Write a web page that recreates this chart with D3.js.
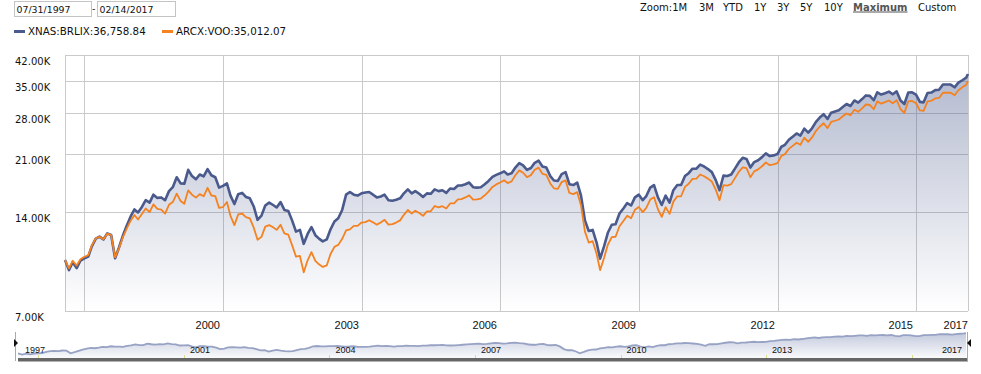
<!DOCTYPE html>
<html>
<head>
<meta charset="utf-8">
<script src="https://cdn.jsdelivr.net/npm/d3@7"></script>
<style>
  body { margin: 0; background: #fff; }
  svg { display: block; }
</style>
</head>
<body>
<div id="chart"></div>
<script>
// growth of 10K, monthly closes (thousands), 07/31/1997 .. 02/14/2017
var brlix = [
  10.00, 9.32, 9.85, 9.45, 9.95, 10.12,
  10.25, 11.00, 11.62, 11.78, 11.55, 12.05, 11.92, 10.12, 10.90, 11.85, 12.70, 13.55,
  14.25, 13.95, 14.50, 15.20, 14.95, 15.80, 15.45, 15.50, 15.20, 16.20, 16.65, 17.85,
  17.10, 17.05, 18.80, 18.00, 17.60, 18.20, 17.95, 18.90, 18.10, 17.85, 16.60, 16.80,
  17.10, 15.70, 14.80, 15.85, 16.00, 15.55, 15.40, 14.55, 13.25, 13.65, 14.65, 14.95,
  14.70, 14.45, 15.00, 14.20, 14.10, 13.20, 12.20, 12.35, 11.20, 12.00, 12.60, 11.90,
  11.60, 11.40, 11.55, 12.40, 13.10, 13.40, 14.20, 15.80, 16.10, 15.80, 15.70, 15.95,
  16.05, 16.10, 15.80, 15.50, 15.60, 15.80, 15.20, 15.15, 15.25, 15.40, 15.95, 16.40,
  15.95, 16.20, 15.90, 15.55, 15.95, 15.90, 16.40, 16.20, 16.30, 16.00, 16.50, 16.45,
  16.85, 16.85, 17.00, 17.20, 16.65, 16.60, 16.65, 17.00, 17.40, 17.90, 18.15, 18.35,
  18.60, 18.20, 18.35, 19.10, 19.70, 19.40, 18.80, 19.05, 19.75, 20.05, 19.25, 19.10,
  18.00, 17.45, 17.40, 18.25, 18.50, 17.00, 16.90, 17.20, 15.70, 13.20, 12.25, 12.35,
  11.30, 10.10, 11.00, 12.10, 12.80, 12.85, 13.85, 14.35, 14.90, 14.65, 15.50, 15.80,
  15.20, 15.65, 16.60, 16.90, 15.50, 14.70, 15.70, 14.95, 16.30, 16.90, 16.90, 18.00,
  18.40, 18.95, 18.95, 19.50, 19.25, 18.90, 18.50, 17.50, 16.30, 18.05, 18.00, 18.20,
  19.00, 19.80, 20.45, 20.30, 19.10, 19.85, 20.10, 20.55, 21.10, 20.70, 20.80, 21.00,
  22.10, 22.40, 23.20, 23.70, 24.25, 23.90, 25.10, 24.40, 25.15, 26.30, 27.10, 27.75,
  26.85, 28.05, 28.30, 28.55, 29.20, 29.80, 29.40, 30.55, 30.10, 30.85, 31.65, 31.55,
  30.60, 32.35, 31.85, 32.15, 32.50, 31.90, 32.55, 30.55, 29.80, 32.30, 32.35, 31.85,
  30.25, 30.15, 32.20, 32.30, 32.85, 32.95, 34.15, 34.15, 34.15, 33.50, 34.60, 35.20,
  35.85, 36.75884
];
var voo = [
  10.00, 9.43, 9.95, 9.62, 10.05, 10.23,
  10.34, 11.08, 11.64, 11.77, 11.56, 12.03, 11.90, 10.19, 10.84, 11.72, 12.43, 13.15,
  13.70, 13.28, 13.80, 14.34, 13.99, 14.77, 14.31, 14.24, 13.84, 14.72, 15.01, 15.92,
  15.12, 14.83, 16.29, 15.80, 15.48, 15.86, 15.62, 16.58, 15.71, 15.64, 14.40, 14.49,
  15.01, 13.63, 12.77, 13.76, 13.85, 13.51, 13.38, 12.54, 11.52, 11.76, 12.64, 12.77,
  12.58, 12.35, 12.80, 12.05, 11.94, 11.10, 10.24, 10.29, 9.18, 9.98, 10.57, 9.94,
  9.69, 9.53, 9.63, 10.43, 10.97, 11.12, 11.60, 12.30, 12.40, 12.70, 12.70, 13.00,
  13.04, 13.21, 13.02, 12.81, 13.00, 13.25, 12.81, 12.86, 13.00, 13.20, 13.72, 14.19,
  13.85, 14.13, 13.89, 13.63, 14.06, 14.07, 14.60, 14.45, 14.58, 14.35, 14.86, 14.87,
  15.28, 15.32, 15.50, 15.72, 15.26, 15.28, 15.38, 15.73, 16.15, 16.68, 16.98, 17.21,
  17.48, 17.14, 17.34, 18.10, 18.73, 18.42, 17.86, 18.12, 18.81, 19.09, 18.29, 18.16,
  17.09, 16.52, 16.45, 17.26, 17.46, 15.99, 15.86, 16.08, 14.64, 12.20, 11.30, 11.41,
  10.45, 9.32, 10.15, 11.13, 11.74, 11.77, 12.67, 13.14, 13.64, 13.40, 14.21, 14.49,
  13.98, 14.40, 15.27, 15.53, 14.27, 13.53, 14.48, 13.81, 15.05, 15.62, 15.63, 16.68,
  17.08, 17.65, 17.67, 18.20, 17.98, 17.68, 17.32, 16.37, 15.21, 16.89, 16.84, 17.01,
  17.77, 18.53, 19.13, 19.02, 17.85, 18.60, 18.86, 19.28, 19.79, 19.42, 19.52, 19.70,
  20.73, 20.99, 21.77, 22.23, 22.72, 22.41, 23.56, 22.87, 23.59, 24.68, 25.42, 26.05,
  25.17, 26.29, 26.51, 26.74, 27.35, 27.90, 27.55, 28.62, 28.22, 28.92, 29.70, 29.61,
  28.73, 30.36, 29.87, 30.20, 30.54, 29.95, 30.61, 28.73, 28.01, 30.38, 30.46, 29.97,
  28.49, 28.41, 30.36, 30.48, 30.99, 31.09, 32.25, 32.25, 32.27, 31.69, 32.82, 33.49,
  34.11, 35.01207
];
var yTicks = [7, 14, 21, 28, 35, 42];
var gridYears = [1998, 2001, 2004, 2007, 2010, 2013, 2016];
var xLabels = ["2000", "2003", "2006", "2009", "2012", "2015"];
var navLabels = ["2001", "2004", "2007", "2010", "2013"];
var zoomLabels = ["3M", "YTD", "1Y", "3Y", "5Y", "10Y"];

// month-end dates, last point is the 14th of February
var dates = d3.timeMonth.range(new Date(1997, 6, 1), new Date(2017, 1, 1))
    .map(function(m) { return d3.timeDay.offset(d3.timeMonth.offset(m, 1), -1); });
dates.push(new Date(2017, 1, 14));

var rows = dates.map(function(d, i) { return {date: d, a: brlix[i], b: voo[i]}; });

var width = 981, height = 374;
var svg = d3.select("#chart").append("svg")
    .attr("width", width)
    .attr("height", height)
    .style("font-family", "'DejaVu Sans', Verdana, sans-serif");

var defs = svg.append("defs");
var grad = defs.append("linearGradient").attr("id", "areaFill")
    .attr("gradientUnits", "userSpaceOnUse")
    .attr("x1", 0).attr("x2", 0).attr("y1", 55).attr("y2", 311);
grad.append("stop").attr("offset", 0).attr("stop-color", "#4a5a8c").attr("stop-opacity", 0.45);
grad.append("stop").attr("offset", 1).attr("stop-color", "#4a5a8c").attr("stop-opacity", 0.0);

var ngrad = defs.append("linearGradient").attr("id", "navFill")
    .attr("gradientUnits", "userSpaceOnUse")
    .attr("x1", 0).attr("x2", 0).attr("y1", 332).attr("y2", 358);
ngrad.append("stop").attr("offset", 0).attr("stop-color", "#8e9abf").attr("stop-opacity", 0.55);
ngrad.append("stop").attr("offset", 1).attr("stop-color", "#8e9abf").attr("stop-opacity", 0.05);

// ---------- header: date inputs, legend, zoom ----------
var inputs = [{x: 14, w: 77, t: "07/31/1997"}, {x: 97, w: 78, t: "02/14/2017"}];
svg.selectAll("rect.inp")
    .data(inputs)
    .enter()
    .append("rect")
    .attr("class", "inp")
    .attr("x", function(d) { return d.x + 0.5; })
    .attr("y", 1.5)
    .attr("width", function(d) { return d.w; })
    .attr("height", 15)
    .attr("fill", "#fff")
    .attr("stroke", "#c4c4c4");
svg.selectAll("text.inp")
    .data(inputs)
    .enter()
    .append("text")
    .attr("class", "inp")
    .attr("x", function(d) { return d.x + 2.5; })
    .attr("y", 12.5)
    .attr("font-size", "9.4px")
    .attr("fill", "#111")
    .text(function(d) { return d.t; });
svg.append("text").attr("x", 92).attr("y", 12).attr("font-size", "9.4px").text("-");

var legend = [
  {x: 14, color: "#4a5a8c", label: "XNAS:BRLIX:" + d3.format(",.2f")(brlix[brlix.length - 1] * 1000)},
  {x: 162, color: "#f58220", label: "ARCX:VOO:" + d3.format(",.2f")(voo[voo.length - 1] * 1000)}
];
var lg = svg.selectAll("g.legend")
    .data(legend)
    .enter()
    .append("g")
    .attr("class", "legend")
    .attr("transform", function(d) { return "translate(" + d.x + ",0)"; });
lg.append("rect").attr("x", 0).attr("y", 30).attr("width", 11).attr("height", 3)
    .attr("fill", function(d) { return d.color; });
lg.append("text").attr("x", 14).attr("y", 34.5).attr("font-size", "10.3px").attr("fill", "#111")
    .text(function(d) { return d.label; });

var zoomG = svg.append("text").attr("y", 10.5).attr("font-size", "10px").attr("fill", "#111");
zoomG.append("tspan").attr("x", 640).text("Zoom:1M");
var zx = [699, 723, 754, 777, 800, 824];
zoomG.selectAll("tspan.z")
    .data(zoomLabels)
    .enter()
    .append("tspan")
    .attr("class", "z")
    .attr("x", function(d, i) { return zx[i]; })
    .text(function(d) { return d; });
svg.append("text").attr("x", 853).attr("y", 10.5).attr("font-size", "10px")
    .attr("font-weight", "bold").attr("fill", "#555")
    .attr("text-decoration", "underline").text("Maximum");
svg.append("text").attr("x", 918).attr("y", 10.5).attr("font-size", "10px").attr("fill", "#111")
    .text("Custom");

// ---------- main chart ----------
var x = d3.scaleTime().domain([dates[0], dates[dates.length - 1]]).range([65, 968]);
var y = d3.scaleLog().domain([7, 42]).range([311, 55]);

// horizontal grid + labels
svg.selectAll("line.hgrid")
    .data(yTicks)
    .enter()
    .append("line")
    .attr("class", "hgrid")
    .attr("x1", 65).attr("x2", 968)
    .attr("y1", function(d) { return Math.round(y(d)) + 0.5; })
    .attr("y2", function(d) { return Math.round(y(d)) + 0.5; })
    .attr("stroke", "#cacaca");
svg.selectAll("text.ylab")
    .data(yTicks)
    .enter()
    .append("text")
    .attr("class", "ylab")
    .attr("x", 15)
    .attr("y", function(d) { return Math.round(y(d)) + 9.5; })
    .attr("font-size", "10px")
    .attr("fill", "#111")
    .text(function(d) { return d3.format(".2f")(d) + "K"; });

// vertical grid
var vx = gridYears.map(function(yr) { return Math.round(x(new Date(yr, 0, 1))); });
vx = [65, 968].concat(vx);
svg.selectAll("line.vgrid")
    .data(vx)
    .enter()
    .append("line")
    .attr("class", "vgrid")
    .attr("x1", function(d) { return d + 0.5; })
    .attr("x2", function(d) { return d + 0.5; })
    .attr("y1", 55).attr("y2", 311)
    .attr("stroke", "#cacaca");

// x labels, right-aligned to the grid line that follows them
svg.selectAll("text.xlab")
    .data(xLabels)
    .enter()
    .append("text")
    .attr("class", "xlab")
    .attr("x", function(d) { return Math.round(x(new Date(+d + 1, 0, 1))) - 3; })
    .attr("y", 329)
    .attr("text-anchor", "end")
    .attr("font-family", "'Liberation Sans', Arial, sans-serif")
    .attr("font-size", "11px")
    .attr("fill", "#111")
    .text(function(d) { return d; });
svg.append("text").attr("x", 968).attr("y", 329).attr("text-anchor", "end")
    .attr("font-family", "'Liberation Sans', Arial, sans-serif")
    .attr("font-size", "11px").attr("fill", "#111").text("2017");

var area = d3.area()
    .x(function(d) { return x(d.date); })
    .y0(311)
    .y1(function(d) { return y(d.a); });
svg.append("path").datum(rows).attr("d", area).attr("fill", "url(#areaFill)");

var lineA = d3.line().x(function(d) { return x(d.date); }).y(function(d) { return y(d.a); });
var lineB = d3.line().x(function(d) { return x(d.date); }).y(function(d) { return y(d.b); });
svg.append("path").datum(rows).attr("d", lineA)
    .attr("fill", "none").attr("stroke", "#4a5a8c").attr("stroke-width", 2.6)
    .attr("stroke-linejoin", "round");
svg.append("path").datum(rows).attr("d", lineB)
    .attr("fill", "none").attr("stroke", "#f58220").attr("stroke-width", 1.8)
    .attr("stroke-linejoin", "round");

// ---------- navigator ----------
var nx = d3.scaleTime().domain(x.domain()).range([18, 966]);
var ny = d3.scaleLog().domain([7, 42]).range([359, 331]);

var navArea = d3.area().x(function(d) { return nx(d.date); }).y0(358)
    .y1(function(d) { return ny(d.a); });
svg.append("path").datum(rows).attr("d", navArea).attr("fill", "url(#navFill)");
svg.append("path").datum(rows)
    .attr("d", d3.line().x(function(d) { return nx(d.date); }).y(function(d) { return ny(d.a); }))
    .attr("fill", "none").attr("stroke", "#97a2c4").attr("stroke-width", 1.8);

svg.append("rect").attr("x", 18).attr("y", 358).attr("width", 950).attr("height", 3.5).attr("fill", "#666");

svg.selectAll("line.ntick")
    .data(gridYears)
    .enter()
    .append("line")
    .attr("class", "ntick")
    .attr("x1", function(d) { return Math.round(nx(new Date(d, 0, 1))) + 0.5; })
    .attr("x2", function(d) { return Math.round(nx(new Date(d, 0, 1))) + 0.5; })
    .attr("y1", 355).attr("y2", 358)
    .attr("stroke", "#d8dc8a");

var navFont = "'Liberation Sans', Arial, sans-serif";
svg.selectAll("text.nlab")
    .data(navLabels)
    .enter()
    .append("text")
    .attr("class", "nlab")
    .attr("x", function(d) { return nx(new Date(+d, 0, 1)) + 6; })
    .attr("y", 353)
    .attr("font-family", navFont)
    .attr("font-size", "9px")
    .attr("fill", "#111")
    .text(function(d) { return d; });
svg.append("text").attr("x", 25).attr("y", 353).attr("font-family", navFont)
    .attr("font-size", "9px").attr("fill", "#111").text("1997");
svg.append("text").attr("x", 962).attr("y", 353).attr("text-anchor", "end").attr("font-family", navFont)
    .attr("font-size", "9px").attr("fill", "#111").text("2017");

// handles
svg.append("line").attr("x1", 15.5).attr("x2", 15.5).attr("y1", 332).attr("y2", 361)
    .attr("stroke", "#aaa");
svg.append("line").attr("x1", 967.5).attr("x2", 967.5).attr("y1", 332).attr("y2", 361)
    .attr("stroke", "#aaa");
svg.append("path").attr("d", "M14,339 L18,343 L14,347 Z").attr("fill", "#111");
svg.append("path").attr("d", "M971,339 L967,343 L971,347 Z").attr("fill", "#111");
</script>
</body>
</html>
